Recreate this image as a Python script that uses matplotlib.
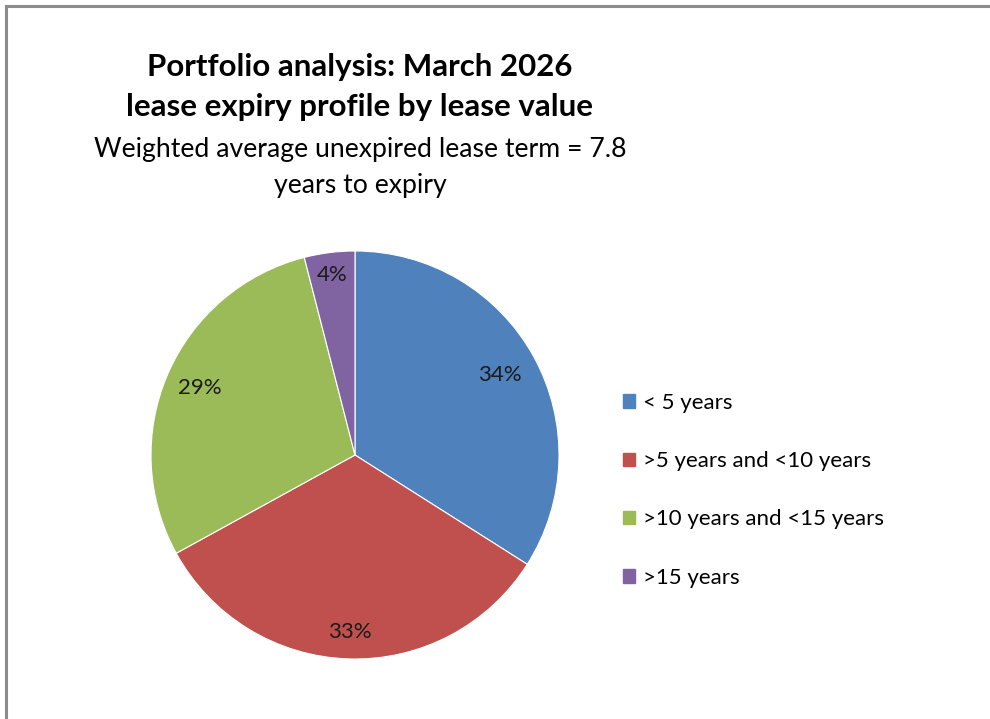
import numpy as np
import matplotlib.pyplot as plt
from matplotlib.lines import Line2D

plt.rcParams['font.family'] = ['Lato', 'DejaVu Sans']

categories = ['< 5 years', '>5 years and <10 years', '>10 years and <15 years', '>15 years']
shares = [34, 33, 29, 4]
colors = ['#4F81BD', '#C0504D', '#9BBB59', '#8064A2']
label_dist = [0.81, 0.87, 0.83, 0.89]

W, H = 990, 719
fig = plt.figure(figsize=(W / 100, H / 100), dpi=100)

# grey frame (only top and left visible in the crop)
fig.add_artist(Line2D([6 / W, 1], [1 - 6 / H, 1 - 6 / H], color='#8c8c8c', lw=2.2))
fig.add_artist(Line2D([6 / W, 6 / W], [0, 1 - 6 / H], color='#8c8c8c', lw=2.2))

cx, cy, r = 355, 455, 204
ax = fig.add_axes([(cx - r) / W, (H - cy - r) / H, 2 * r / W, 2 * r / H])
wedges, _ = ax.pie(shares, colors=colors, startangle=90, counterclock=False,
                   wedgeprops=dict(edgecolor='white', linewidth=0.8))
ax.set_xlim(-1, 1)
ax.set_ylim(-1, 1)
ax.set_aspect('equal')

for w, v, d in zip(wedges, shares, label_dist):
    ang = np.deg2rad((w.theta1 + w.theta2) / 2)
    ax.text(d * np.cos(ang), d * np.sin(ang), f'{v}%', ha='center', va='center',
            fontsize=16, color='#1a1a1a')

fig.text(360 / W, 1 - 67 / H, 'Portfolio analysis: March 2026', ha='center', va='center',
         fontsize=22.5, fontweight='bold')
fig.text(360 / W, 1 - 107 / H, 'lease expiry profile by lease value', ha='center', va='center',
         fontsize=22.5, fontweight='bold')
fig.text(360 / W, 1 - 150 / H, 'Weighted average unexpired lease term = 7.8', ha='center',
         va='center', fontsize=19.2)
fig.text(360 / W, 1 - 186 / H, 'years to expiry', ha='center', va='center', fontsize=19.2)

handles = [plt.Rectangle((0, 0), 1, 1, color=c) for c in colors]
fig.legend(handles, categories, loc='upper left', bbox_to_anchor=(603 / W, 1 - 373 / H),
           frameon=False, fontsize=16, handlelength=0.55, handleheight=0.55,
           handletextpad=0.35, labelspacing=1.72)

fig.savefig('out.png', dpi=100)
